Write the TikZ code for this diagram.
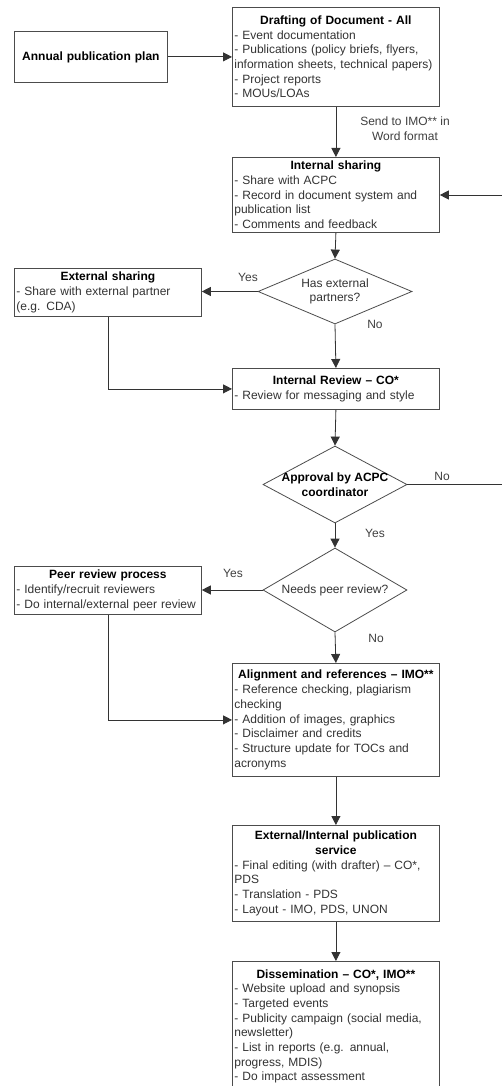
\documentclass[tikz,border=0pt]{standalone}
\usepackage{fontspec}
\setmainfont{Liberation Sans}
\usetikzlibrary{arrows.meta,shapes.geometric}
\newcommand\ttl[1]{\makebox[\hsize]{\color{black}\bfseries #1}}
\newcommand\bl[1]{\mbox{#1}}
\tikzset{
  base/.style={font=\fontsize{12}{14.7}\selectfont},
  box/.style={base, draw=black!70, line width=0.8pt, rectangle, anchor=north west,
    inner xsep=2pt, inner ysep=0pt, text width=203pt, minimum width=207pt,
    align=left, text=black!80},
  sbox/.style={box, text width=183pt, minimum width=187pt},
  diam/.style={draw=black!70, line width=0.8pt, diamond, inner sep=0pt, shape aspect=2},
  dtext/.style={base, align=center, text=black!80, inner sep=0pt},
  lbl/.style={base, text=black!75, inner sep=0pt, align=center},
  arr/.style={draw=black!80, line width=0.8pt, -{Triangle[length=9pt,width=9pt]}},
  ln/.style={draw=black!80, line width=0.8pt},
}
\begin{document}
\begin{tikzpicture}[x=1pt,y=-1pt]
\useasboundingbox (0,0) rectangle (502,1086);
\fill[white] (0,0) rectangle (502,1086);

% boxes
\node[box, text width=149pt, minimum width=153pt, minimum height=51pt, align=center] (plan) at (14,31)
  {\color{black}\bfseries Annual publication plan};
\node[box, minimum height=99pt] (draft) at (232,7)
  {\ttl{Drafting of Document - All}\\
   \bl{- Event documentation}\\
   \bl{- Publications (policy briefs, flyers,}\\
   \bl{information sheets, technical papers)}\\
   \bl{- Project reports}\\
   \bl{- MOUs/LOAs}};
\node[box, minimum height=75pt] (intshare) at (232,157)
  {\ttl{Internal sharing}\\
   \bl{- Share with ACPC}\\
   \bl{- Record in document system and}\\
   \bl{publication list}\\
   \bl{- Comments and feedback}};
\node[sbox, minimum height=48pt] (extshare) at (14,268)
  {\ttl{External sharing}\\
   \bl{- Share with external partner}\\
   \bl{(e.g. CDA)}};
\node[box, minimum height=41pt] (intrev) at (232,368)
  {\ttl{Internal Review -- CO*}\\
   \bl{- Review for messaging and style}};
\node[sbox, minimum height=48pt] (peer) at (14,566)
  {\ttl{Peer review process}\\
   \bl{- Identify/recruit reviewers}\\
   \bl{- Do internal/external peer review}};
\node[box, minimum height=113pt] (align) at (232,663)
  {\ttl{Alignment and references -- IMO**}\\
   \bl{- Reference checking, plagiarism}\\
   \bl{checking}\\
   \bl{- Addition of images, graphics}\\
   \bl{- Disclaimer and credits}\\
   \bl{- Structure update for TOCs and}\\
   \bl{acronyms}};
\node[box, minimum height=96pt] (pubserv) at (232,825)
  {\ttl{External/Internal publication}\\
   \ttl{service}\\
   \bl{- Final editing (with drafter) -- CO*,}\\
   \bl{PDS}\\
   \bl{- Translation - PDS}\\
   \bl{- Layout - IMO, PDS, UNON}};
\node[box, minimum height=130pt] (dissem) at (232,961)
  {\ttl{Dissemination -- CO*, IMO**}\\
   \bl{- Website upload and synopsis}\\
   \bl{- Targeted events}\\
   \bl{- Publicity campaign (social media,}\\
   \bl{newsletter)}\\
   \bl{- List in reports (e.g. annual,}\\
   \bl{progress, MDIS)}\\
   \bl{- Do impact assessment}};

% diamonds
\node[diam, minimum width=154pt, minimum height=65pt] (d1) at (335,291.5) {};
\node[dtext] (d1t) at (d1.center) {Has external\\partners?};
\node[diam, minimum width=144pt, minimum height=77pt] (d2) at (335,484.5) {};
\node[dtext, text=black, font=\fontsize{12}{14.7}\selectfont\bfseries] (d2t) at (d2.center) {Approval by ACPC\\coordinator};
\node[diam, minimum width=144pt, minimum height=84pt] (d3) at (335,590) {};
\node[dtext] (d3t) at (d3.center) {Needs peer review?};

% connector points off the page
\coordinate (loopA) at (512,484.5);
\coordinate (loopB) at (512,195);

% connectors
\draw[arr] (plan.east) -- (plan.east -| draft.west);
\draw[arr] (draft.south) -- (intshare.north);
\draw[ln] (d2.east) -- (loopA) -- (loopB);
\draw[arr] (loopB) -- (loopB -| intshare.east);
\draw[arr] (intshare.south) -- (d1.north);
\draw[arr] (d1.west) -- (d1.west -| extshare.east);
\draw[arr] (d1.south) -- (intrev.north);
\draw[arr] (extshare.south) |- (intrev.west);
\draw[arr] (intrev.south) -- (d2.north);
\draw[arr] (d2.south) -- (d3.north);
\draw[arr] (d3.west) -- (d3.west -| peer.east);
\draw[arr] (d3.south) -- (align.north);
\draw[arr] (peer.south) |- (align.west);
\draw[arr] (align.south) -- (pubserv.north);
\draw[arr] (pubserv.south) -- (dissem.north);

% labels
\node[lbl] (send) at (405,129) {Send to IMO** in\\Word format};
\node[lbl] (yes1) at (248,277) {Yes};
\node[lbl] (no1) at (375,324) {No};
\node[lbl] (no2) at (442,476) {No};
\node[lbl] (yes2) at (375,533) {Yes};
\node[lbl] (yes3) at (233,573) {Yes};
\node[lbl] (no3) at (376,638) {No};
\end{tikzpicture}
\end{document}
